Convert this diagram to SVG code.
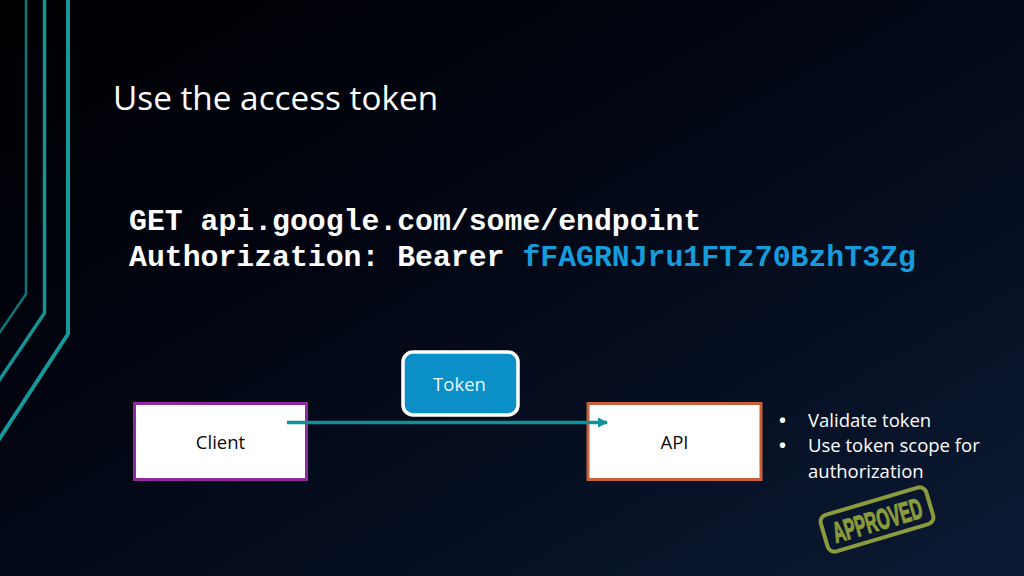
<svg xmlns="http://www.w3.org/2000/svg" width="1024" height="576" viewBox="0 0 1024 576">
<style>
.ui{font-family:"Open Sans","Noto Sans","Liberation Sans",sans-serif}
.code{font-family:"Liberation Mono","Courier New",monospace;font-weight:700;font-size:29.8px;fill:#fff}
.label{font-size:18.5px;fill:#0a0a0a;text-anchor:middle}
.bullet{font-size:18.5px;fill:#fff}
.dot{font-size:18.5px;font-weight:700;fill:#fff}
.rail{fill:none;stroke:#159a9c}
</style>
<defs>
<linearGradient id="bg" x1="0" y1="0" x2="1" y2="1">
<stop offset="0" stop-color="#000002"/>
<stop offset="0.35" stop-color="#01040f"/>
<stop offset="1" stop-color="#0b1a34"/>
</linearGradient>
<marker id="arrow" markerUnits="userSpaceOnUse" markerWidth="10" markerHeight="12" refX="9" refY="5" orient="auto">
<path d="M0 0L10 5L0 10Z" fill="#0f9297"/>
</marker>
</defs>
<rect width="1024" height="576" fill="url(#bg)"/>
<g id="rails">
<path class="rail" stroke-width="2.500" opacity="0.75" d="M26 0V294L-2 335"/>
<path class="rail" stroke-width="3.500" opacity="0.95" d="M44.500 0V313L-2 382"/>
<path class="rail" stroke-width="4" d="M68 0V334L-2 441"/>
</g>
<text id="title" class="ui" x="113" y="110" font-size="33.300" fill="#fff">Use the access token</text>
<g id="code">
<text class="code" x="129" y="230">GET api.google.com/some/endpoint</text>
<text class="code" x="129" y="266">Authorization: Bearer <tspan fill="#169bdb">fFAGRNJru1FTz70BzhT3Zg</tspan></text>
</g>
<g id="client">
<rect x="134.500" y="403.500" width="172" height="76" fill="#fff" stroke="#912a9c" stroke-width="3"/>
<text class="ui label" x="220.500" y="448.500">Client</text>
</g>
<g id="api">
<rect x="588" y="403.500" width="173" height="76" fill="#fff" stroke="#c8603a" stroke-width="3"/>
<text class="ui label" x="674.500" y="448.500">API</text>
</g>
<g id="token">
<rect x="403" y="352" width="115" height="63" rx="10" fill="#0a8fc7" stroke="#fff" stroke-width="3.500"/>
<text class="ui" x="459.500" y="391" font-size="18.500" fill="#e8f6fc" text-anchor="middle">Token</text>
</g>
<g id="connectors">
<line x1="287" y1="422.500" x2="607" y2="422.500" stroke="#0f9297" stroke-width="3.500" marker-end="url(#arrow)"/>
</g>
<g id="notes" class="ui bullet">
<text class="dot" x="779" y="427">•</text><text x="808" y="427">Validate token</text>
<text class="dot" x="779" y="452">•</text><text x="808" y="452">Use token scope for</text>
<text x="808" y="478">authorization</text>
</g>
<g id="stamp" transform="translate(877 519.500) rotate(-16.500)">
<rect x="-55" y="-19" width="110" height="38" rx="7" fill="none" stroke="#8a9a3c" stroke-width="4"/>
<text x="0" y="11" font-family="'Liberation Sans',sans-serif" font-weight="700" font-size="29" fill="#8a9a3c" stroke="#8a9a3c" stroke-width="1.200" text-anchor="middle" textLength="92" lengthAdjust="spacingAndGlyphs">APPROVED</text>
</g>
</svg>
